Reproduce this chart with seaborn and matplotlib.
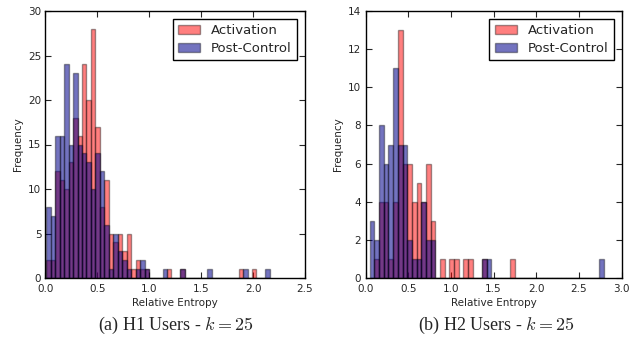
import numpy as np
import pandas as pd
import matplotlib
matplotlib.use("Agg")
import matplotlib.pyplot as plt
import seaborn as sns

# ---------------- data (bin counts) ----------------
# H1 users: 50 bins of equal width
h1_bin_start = 0.007
h1_bin_width = 0.0431
h1_activation = [2, 2, 12, 11, 10, 13, 18, 16, 24, 20,
                 28, 17, 8, 11, 5, 4, 5, 3, 5, 1,
                 2, 1, 1, 0, 0, 0, 0, 1, 0, 0,
                 1, 0, 0, 0, 0, 0, 0, 0, 0, 0,
                 0, 0, 0, 1, 0, 0, 1, 0, 0, 0]
h1_postcontrol = [8, 7, 16, 16, 24, 15, 23, 15, 14, 13,
                  10, 14, 12, 6, 1, 5, 3, 2, 1, 0,
                  1, 2, 1, 0, 0, 0, 1, 0, 0, 0,
                  1, 0, 0, 0, 0, 0, 1, 0, 0, 0,
                  0, 0, 0, 0, 1, 0, 0, 0, 0, 1]

# H2 users: 50 bins of equal width
h2_bin_start = 0.05
h2_bin_width = 0.0548
h2_activation = [0, 1, 4, 4, 1, 4, 13, 6, 6, 4,
                 5, 4, 6, 3, 0, 1, 0, 1, 1, 0,
                 1, 1, 0, 0, 1, 0, 0, 0, 0, 0,
                 1, 0, 0, 0, 0, 0, 0, 0, 0, 0,
                 0, 0, 0, 0, 0, 0, 0, 0, 0, 0]
h2_postcontrol = [3, 2, 8, 6, 7, 11, 7, 7, 2, 1,
                  1, 4, 2, 2, 0, 0, 0, 0, 0, 0,
                  0, 0, 0, 0, 1, 1, 0, 0, 0, 0,
                  0, 0, 0, 0, 0, 0, 0, 0, 0, 0,
                  0, 0, 0, 0, 0, 0, 0, 0, 0, 1]

series_labels = ["Activation", "Post-Control"]
captions = ["(a) H1 Users - $k=25$", "(b) H2 Users - $k=25$"]
x_label = "Relative Entropy"
y_label = "Frequency"
h1_xticks = [0.0, 0.5, 1.0, 1.5, 2.0, 2.5]
h1_yticks = [0, 5, 10, 15, 20, 25, 30]
h2_xticks = [0.0, 0.5, 1.0, 1.5, 2.0, 2.5, 3.0]
h2_yticks = [0, 2, 4, 6, 8, 10, 12, 14]

# ---------------- style ----------------
sns.set_style("ticks")
plt.rcParams["font.family"] = ["DejaVu Sans"]
plt.rcParams["mathtext.fontset"] = "cm"

fig = plt.figure(figsize=(6.42, 3.5), dpi=100)
ax1 = fig.add_axes([45.5 / 642, 1 - 278 / 350, (305 - 45.5) / 642, (278 - 11) / 350])
ax2 = fig.add_axes([365.5 / 642, 1 - 278 / 350, (621.5 - 365.5) / 642, (278 - 11) / 350])

colors = [(1.0, 0.0, 0.0), (0.0, 0.0, 0.55)]
alphas = [0.5, 0.55]
edge = (0.0, 0.0, 0.0, 0.38)


def draw(ax, start, width, act, post, xticks, yticks):
    n = len(act)
    centers = start + width * (np.arange(n) + 0.5)
    df = pd.DataFrame({"x": np.concatenate([centers, centers]),
                       "w": np.concatenate([act, post]).astype(float),
                       "series": [series_labels[0]] * n + [series_labels[1]] * n})
    for i, lab in enumerate(series_labels):
        sub = df[df["series"] == lab]
        sns.histplot(data=sub, x="x", weights="w", bins=n,
                     binrange=(start, start + n * width), ax=ax,
                     color=colors[i], alpha=alphas[i], edgecolor=edge,
                     linewidth=1.0, label=lab, stat="count")
    ax.set_xlim(xticks[0], xticks[-1])
    ax.set_ylim(yticks[0], yticks[-1])
    ax.set_xticks(xticks)
    ax.set_yticks(yticks)
    ax.set_xticklabels([f"{t:.1f}" for t in xticks])
    ax.set_yticklabels([str(t) for t in yticks])
    ax.tick_params(direction="in", top=True, right=True, length=4, width=0.8,
                   labelsize=7.5)
    ax.tick_params(axis="x", pad=4)
    ax.tick_params(axis="y", pad=3)
    for s in ax.spines.values():
        s.set_visible(True)
        s.set_linewidth(1.0)
        s.set_color("black")
    ax.set_xlabel(x_label, fontsize=7.5, labelpad=3)
    ax.set_ylabel(y_label, fontsize=7.5, labelpad=4)
    leg = ax.legend(loc="upper right", fontsize=9.5, fancybox=False,
                    framealpha=1, edgecolor="black", handlelength=1.7,
                    borderaxespad=0.6, borderpad=0.4, labelspacing=0.35,
                    handletextpad=0.8)
    leg.get_frame().set_linewidth(1.0)


draw(ax1, h1_bin_start, h1_bin_width, h1_activation, h1_postcontrol, h1_xticks, h1_yticks)
draw(ax2, h2_bin_start, h2_bin_width, h2_activation, h2_postcontrol, h2_xticks, h2_yticks)

fig.text(176 / 642, 1 - 325 / 350, captions[0], ha="center", va="center",
         fontsize=13, family=["Liberation Serif", "DejaVu Serif"])
fig.text(496 / 642, 1 - 325 / 350, captions[1], ha="center", va="center",
         fontsize=13, family=["Liberation Serif", "DejaVu Serif"])

fig.savefig("out.png", dpi=100)
